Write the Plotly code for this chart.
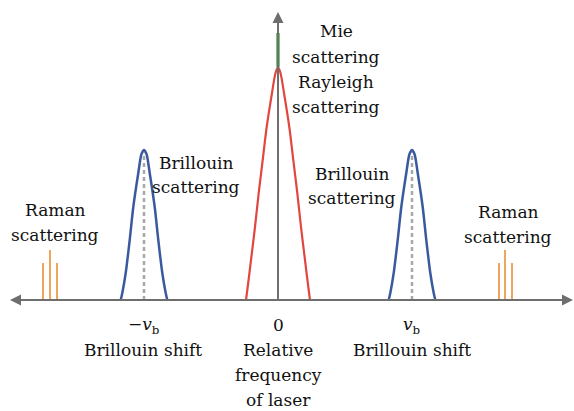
import plotly.graph_objects as go

# ---- data (schematic units: x offset from laser frequency, y intensity) ----
vb = 134
tick_x = [-vb, 0, vb]
tick_labels = ["\u2212<i>v</i><sub>b</sub>", "0", "<i>v</i><sub>b</sub>"]

# half profiles (offset from centre, height)
rayleigh_dx = [0, 2.5, 6, 11.3, 15.3, 19.3, 23, 27, 30.3, 32]
rayleigh_h = [233, 227, 207, 173, 140, 107, 73, 40, 13, 0]
brillouin_dx = [0, 2.5, 5.7, 10.7, 14.3, 18.3, 21.7, 23.3]
brillouin_h = [150, 146, 127, 93, 60, 27, 7, 0]
brillouin_centres = [-vb, vb]

mie_h = [233, 267]
raman_left_x = [-235, -228, -221]
raman_right_x = [221, 227, 234]
raman_h = [37, 50, 37]

axis_left, axis_right, axis_top = -268, 295, 288

RED = "#e0473f"
BLUE = "#3a5aa0"
GREEN = "#4caf50"
ORANGE = "#eea55c"
AXIS = "#6e6e6e"
DASH = "#a8a8a8"

def profile(centre, dx, h):
    xs = [centre - d for d in reversed(dx)] + [centre + d for d in dx[1:]]
    ys = list(reversed(h)) + h[1:]
    return xs, ys

fig = go.Figure()

fig.add_trace(go.Scatter(x=[0, 0], y=[0, axis_top - 8], mode="lines",
                         line=dict(color="#8a8a8a", width=2), hoverinfo="skip"))
fig.add_trace(go.Scatter(x=[axis_left + 8, axis_right - 8], y=[0, 0], mode="lines",
                         line=dict(color=AXIS, width=2), hoverinfo="skip"))

for c in brillouin_centres:
    fig.add_trace(go.Scatter(x=[c, c], y=[0, brillouin_h[0]], mode="lines",
                             line=dict(color=DASH, width=2.5, dash="4px,3px"),
                             hoverinfo="skip"))

xs, ys = profile(0, rayleigh_dx, rayleigh_h)
fig.add_trace(go.Scatter(x=xs, y=ys, mode="lines",
                         line=dict(color=RED, width=2.2, shape="spline", smoothing=0.8),
                         hoverinfo="skip"))
fig.add_trace(go.Scatter(x=[0, 0], y=mie_h, mode="lines",
                         line=dict(color=GREEN, width=3.5), hoverinfo="skip"))
for c in brillouin_centres:
    xs, ys = profile(c, brillouin_dx, brillouin_h)
    fig.add_trace(go.Scatter(x=xs, y=ys, mode="lines",
                             line=dict(color=BLUE, width=2.5, shape="spline", smoothing=0.8),
                             hoverinfo="skip"))
rx, ry = [], []
for xs_ in (raman_left_x, raman_right_x):
    for x, h in zip(xs_, raman_h):
        rx += [x, x, None]
        ry += [0, h, None]
fig.add_trace(go.Scatter(x=rx, y=ry, mode="lines",
                         line=dict(color=ORANGE, width=2), hoverinfo="skip"))

arrows = [(axis_left, 0, 0, 0), (axis_right, 0, 0, 0), (0, axis_top, 0, 0)]
for hx, hy, tx, ty in arrows:
    fig.add_annotation(x=hx, y=hy, ax=tx, ay=ty, xref="x", yref="y", axref="x", ayref="y",
                       showarrow=True, arrowhead=2, arrowsize=1.1, arrowwidth=2,
                       arrowcolor=AXIS, text="")

FONT = dict(family="DejaVu Serif", size=17, color="#111111")

labels = [
    (58, 269, "Mie"), (58, 243, "scattering"), (58, 218, "Rayleigh"), (58, 193, "scattering"),
    (-82, 137, "Brillouin"), (-82, 113, "scattering"),
    (74, 126, "Brillouin"), (74, 102, "scattering"),
    (-223, 90, "Raman"), (-223, 65, "scattering"),
    (230, 88, "Raman"), (230, 63, "scattering"),
    (-135, -50, "Brillouin shift"), (134, -50, "Brillouin shift"),
    (0, -50, "Relative"), (0, -75, "frequency"), (0, -100, "of laser"),
]
for x, y, t in labels:
    fig.add_annotation(x=x, y=y, text=t, showarrow=False, font=FONT,
                       xanchor="center", yanchor="middle")
for x, t in zip(tick_x, tick_labels):
    fig.add_annotation(x=x, y=-25, text=t, showarrow=False, font=FONT,
                       xanchor="center", yanchor="middle")

fig.update_layout(
    width=574, height=411, margin=dict(l=0, r=0, t=0, b=0),
    paper_bgcolor="white", plot_bgcolor="white", showlegend=False,
    xaxis=dict(range=[-278, 296], visible=False, fixedrange=True),
    yaxis=dict(range=[-111, 300], visible=False, fixedrange=True),
)
fig.write_html("out.html", config={"displayModeBar": False},
               post_script="document.body.style.margin='0';document.body.style.overflow='hidden';")
